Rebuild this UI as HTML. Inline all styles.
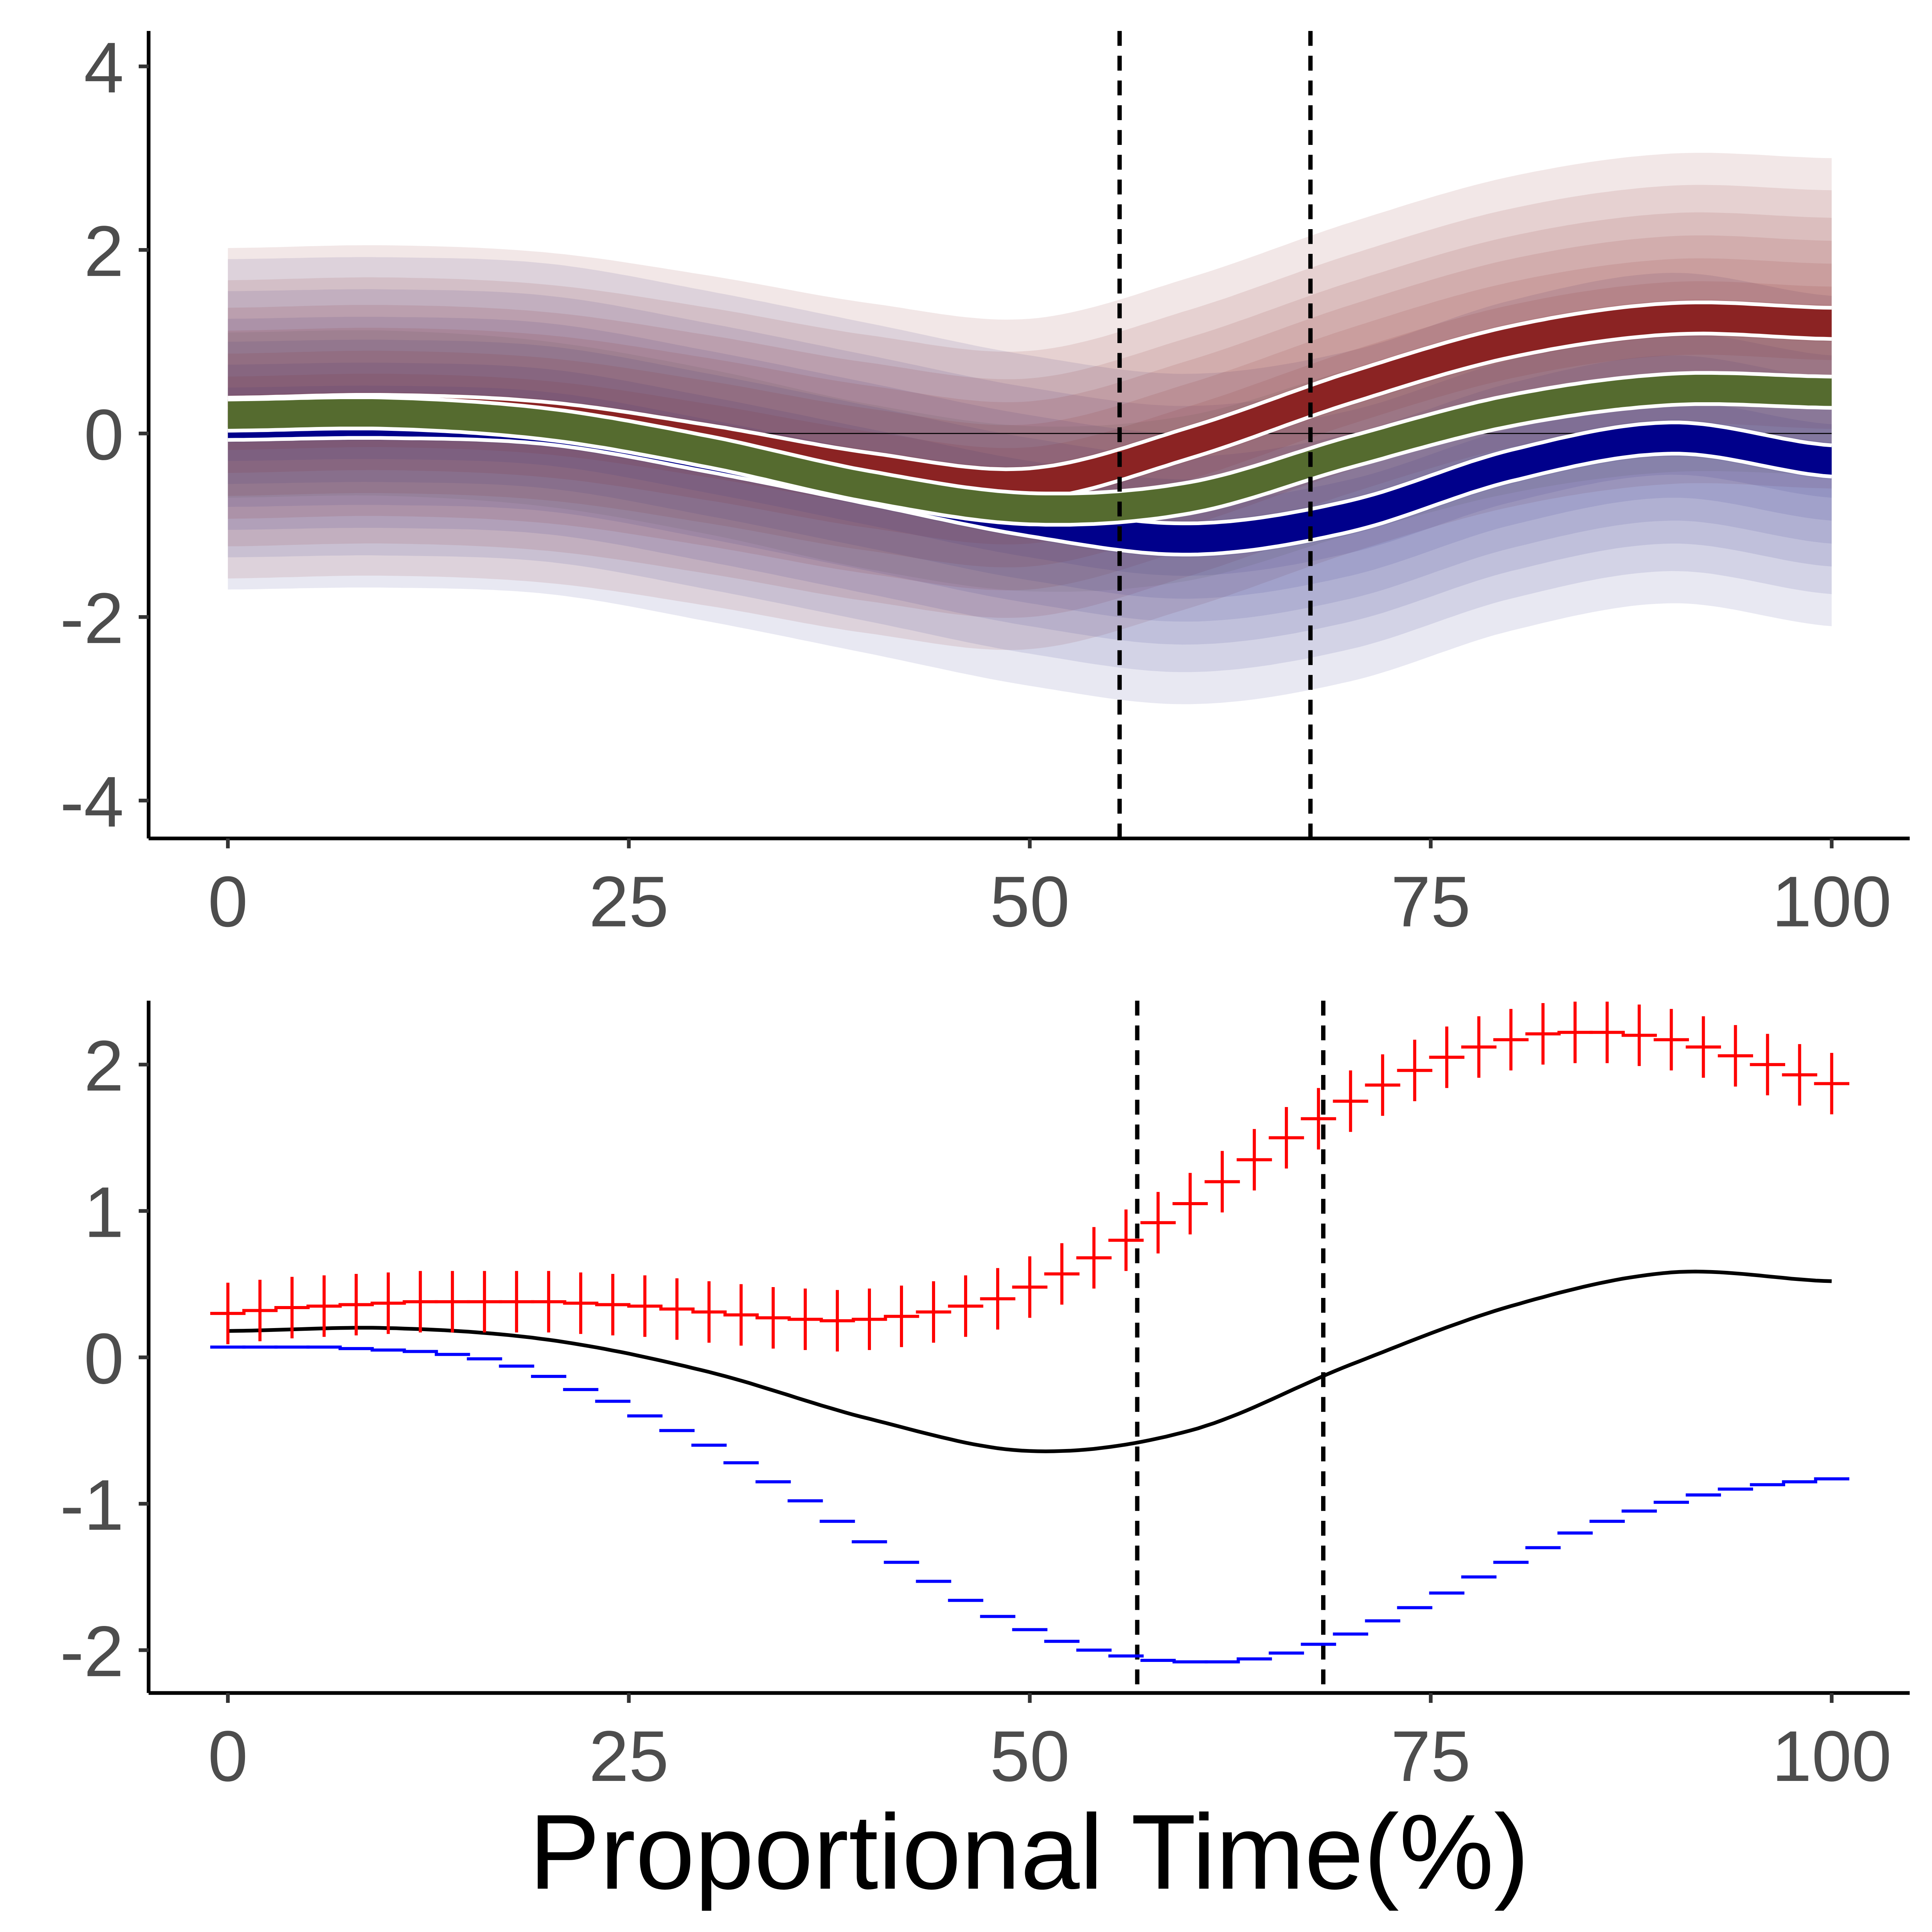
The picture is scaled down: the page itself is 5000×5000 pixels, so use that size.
<!DOCTYPE html>
<html><head><meta charset="utf-8"><style>html,body{margin:0;padding:0;background:#fff}svg{display:block}</style></head>
<body>
<svg id="c" xmlns="http://www.w3.org/2000/svg" width="5000" height="5000" viewBox="0 0 1560 1560" font-family="Liberation Sans, sans-serif">
<g id="top"></g>
<g id="bot"></g>
<text x="831" y="1525" font-size="86" text-anchor="middle" fill="#000">Proportional Time(%)</text>
</svg>
<script>
const topX=[0,10,20,30,40,50,60,70,80,90,100];
const redMean=[0.22,0.25,0.17,-0.08,-0.38,-0.55,-0.1,0.5,1.0,1.25,1.2];
const greenMean=[0.2,0.22,0.1,-0.2,-0.58,-0.82,-0.7,-0.2,0.25,0.48,0.45];
const blueMean=[0.1,0.12,0.05,-0.25,-0.6,-0.95,-1.15,-0.9,-0.35,-0.05,-0.3];
const topVLines=[55.6,67.5];
const topYTicks=[4,2,0,-2,-4];
const xTicks=[0,25,50,75,100];
const botX=[];for(let i=0;i<=100;i+=2)botX.push(i);
const redPts=[.30,.32,.34,.35,.36,.37,.38,.38,.38,.38,.38,.37,.36,.35,.33,.31,.29,.27,.26,.25,.26,.28,.31,.35,.40,.48,.57,.68,.80,.92,1.05,1.20,1.35,1.50,1.63,1.75,1.86,1.96,2.05,2.12,2.17,2.21,2.22,2.22,2.20,2.17,2.12,2.06,2.00,1.93,1.87];
const bluePts=[.07,.07,.07,.07,.06,.05,.04,.02,-.01,-.06,-.13,-.22,-.30,-.40,-.50,-.60,-.72,-.85,-.98,-1.12,-1.26,-1.40,-1.53,-1.66,-1.77,-1.86,-1.94,-2.00,-2.04,-2.07,-2.08,-2.08,-2.06,-2.02,-1.96,-1.89,-1.80,-1.71,-1.61,-1.50,-1.40,-1.30,-1.20,-1.12,-1.05,-0.99,-0.94,-0.90,-0.87,-0.85,-0.83];
const blackX=[0,10,20,30,40,50,60,70,80,90,100];
const blackMean=[0.18,0.2,0.12,-0.1,-0.42,-0.64,-0.5,-0.05,0.35,0.58,0.52];
const botVLines=[56.7,68.3];
const botYTicks=[2,1,0,-1,-2];

const NS="http://www.w3.org/2000/svg";
function mk(p,t,a){const e=document.createElementNS(NS,t);for(const k in a)e.setAttribute(k,a[k]);p.appendChild(e);return e;}
const sx=v=>184+v*12.95;
const syT=v=>350-v*74.1;
const syB=v=>1096-v*118.2;
function interp(xs,ys,n){const out=[];for(let i=0;i<=n;i++){const x=100*i/n;let k=0;while(k<xs.length-2&&x>xs[k+1])k++;
 const x0=xs[k],x1=xs[k+1],t=(x-x0)/(x1-x0);const p0=ys[Math.max(k-1,0)],p1=ys[k],p2=ys[k+1],p3=ys[Math.min(k+2,ys.length-1)];
 const t2=t*t,t3=t2*t;const y=0.5*((2*p1)+(-p0+p2)*t+(2*p0-5*p1+4*p2-p3)*t2+(-p0+3*p1-3*p2+p3)*t3);out.push([x,y]);}return out;}
function band(g,pts,sy,hw,fill,op,name){let d="";pts.forEach((p,i)=>d+=(i?"L":"M")+sx(p[0]).toFixed(1)+","+sy(p[1]+hw).toFixed(1));
 for(let i=pts.length-1;i>=0;i--)d+="L"+sx(pts[i][0]).toFixed(1)+","+sy(pts[i][1]-hw).toFixed(1);
 const e=mk(g,"path",{d:d+"Z",fill:fill,"fill-opacity":op});return e;}
function line(g,pts,sy,off,st,w,name,dash){let d="";pts.forEach((p,i)=>d+=(i?"L":"M")+sx(p[0]).toFixed(1)+","+sy(p[1]+off).toFixed(1));
 const e=mk(g,"path",{d:d,fill:"none",stroke:st,"stroke-width":w});if(dash)e.setAttribute("stroke-dasharray",dash);return e;}
function axes(g,sy,yt,y0,y1,xAxisY,vl,vy0,vy1,labY){
 vl.forEach(v=>{const e=mk(g,"line",{x1:sx(v),x2:sx(v),y1:vy0,y2:vy1,stroke:"#000","stroke-width":3.5,"stroke-dasharray":"12,8"});});
 let e=mk(g,"line",{x1:120,x2:120,y1:y0,y2:xAxisY,stroke:"#000","stroke-width":3});
 e=mk(g,"line",{x1:120,x2:1542,y1:xAxisY,y2:xAxisY,stroke:"#000","stroke-width":3});
 yt.forEach(v=>{const l=mk(g,"line",{x1:112,x2:120,y1:sy(v),y2:sy(v),stroke:"#333","stroke-width":3});
  const t=mk(g,"text",{x:100,y:sy(v)+21,"font-size":58,"text-anchor":"end",fill:"#4d4d4d"});t.textContent=v<0?"-"+(-v):v;});
 xTicks.forEach(v=>{const l=mk(g,"line",{x1:sx(v),x2:sx(v),y1:xAxisY,y2:xAxisY+8,stroke:"#333","stroke-width":3});
  const t=mk(g,"text",{x:sx(v),y:labY,"font-size":58,"text-anchor":"middle",fill:"#4d4d4d"});t.textContent=v;});
}
const T=document.getElementById('top');
const rP=interp(topX,redMean,200),gP=interp(topX,greenMean,200),bP=interp(topX,blueMean,200);
[1.8,1.45,1.15,0.9,0.65,0.4,0.2].forEach(h=>{band(T,bP,syT,h,"#2a2a85",0.11,"blue-trajectories");band(T,rP,syT,h,"#852020",0.11,"red-trajectories");});
band(T,gP,syT,0.9,"#404030",0.08,"green-trajectories");
line(T,[[0,0],[100,0]],syT,0,"#000",0.8,"zero-line");
[[bP,"#00008b","blue-ribbon"],[rP,"#8b2323","red-ribbon"],[gP,"#556b2f","green-ribbon"]].forEach(([p,c,n])=>{
 band(T,p,syT,0.17,c,1,n);line(T,p,syT,0.17,"#fff",3,n+"-upper");line(T,p,syT,-0.17,"#fff",3,n+"-lower");});
axes(T,syT,topYTicks,25,677,677,topVLines,25,677,748);
const B=document.getElementById('bot');
axes(B,syB,botYTicks,808,1367,1367,botVLines,808,1367,1438);
line(B,interp(blackX,blackMean,200),syB,0,"#000",3,"mean-difference-line");
botX.forEach((x,i)=>{let e=mk(B,"line",{x1:sx(x-1.1),x2:sx(x+1.1),y1:syB(bluePts[i]),y2:syB(bluePts[i]),stroke:"#0000ff","stroke-width":2.5});});
botX.forEach((x,i)=>{const y=redPts[i];let e=mk(B,"line",{x1:sx(x-1.1),x2:sx(x+1.1),y1:syB(y),y2:syB(y),stroke:"#ff0000","stroke-width":2.5});
 e=mk(B,"line",{x1:sx(x),x2:sx(x),y1:syB(y+0.21),y2:syB(y-0.21),stroke:"#ff0000","stroke-width":2.5});});
</script>
</body></html>
